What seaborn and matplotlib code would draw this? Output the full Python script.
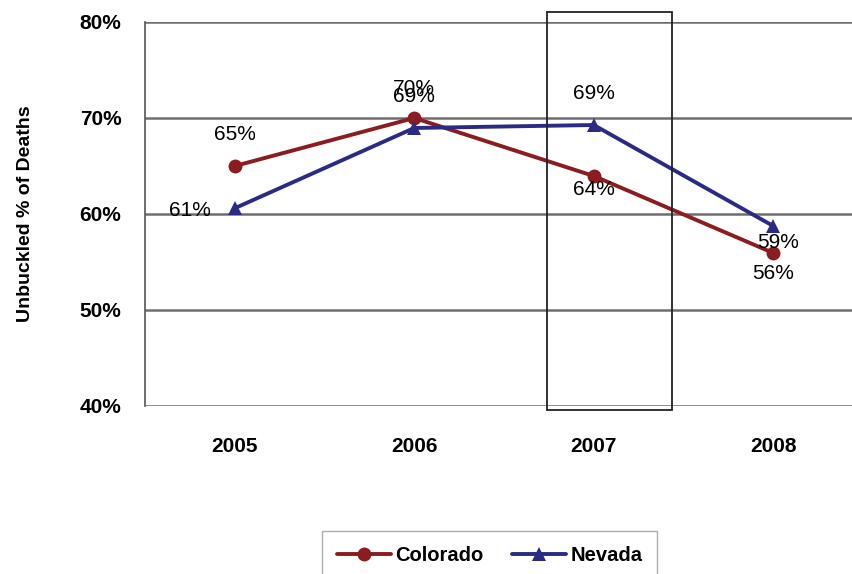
import matplotlib
matplotlib.use("Agg")
import matplotlib.pyplot as plt
from matplotlib.patches import Rectangle
from matplotlib.lines import Line2D
import seaborn as sns
import pandas as pd

years = ["2005", "2006", "2007", "2008"]
colorado = [65.0, 70.0, 63.96, 55.94]
nevada = [60.6, 68.96, 69.27, 58.75]
y_ticks = [40, 50, 60, 70, 80]

sns.set_theme(style="white")
plt.rcParams["font.family"] = ["Liberation Sans", "DejaVu Sans"]
plt.rcParams["text.color"] = "black"
plt.rcParams["xtick.color"] = "black"
plt.rcParams["ytick.color"] = "black"
plt.rcParams["axes.labelcolor"] = "black"

df = pd.DataFrame({
    "pos": list(range(len(years))) * 2,
    "value": colorado + nevada,
    "State": ["Colorado"] * len(years) + ["Nevada"] * len(years),
})

palette = {"Colorado": "#8B1C1F", "Nevada": "#2B2B86"}
markers = {"Colorado": "o", "Nevada": "^"}

fig = plt.figure(figsize=(8.52, 5.74), dpi=100)
ax = fig.add_axes([145 / 852, 1 - 406 / 574, 4 * 179.5 / 852, 384 / 574])

sns.lineplot(data=df, x="pos", y="value", hue="State", style="State",
             palette=palette, markers=markers, dashes=False,
             linewidth=2.8, markersize=10, markeredgewidth=0, ax=ax,
             legend=False)

ax.set_xlim(-0.5, 3.5)
ax.set_ylim(40, 80)
ax.set_yticks(y_ticks)
ax.set_yticklabels([f"{t}%" for t in y_ticks], fontsize=15, fontweight="bold")
ax.set_xticks(range(len(years)))
ax.set_xticklabels(years, fontsize=15, fontweight="bold")
ax.set_xticks([-0.5, 0.5, 1.5, 2.5, 3.5], minor=True)
ax.tick_params(axis="x", which="major", length=0, pad=22)
ax.tick_params(axis="x", which="minor", length=5, width=1, color="#999999")
ax.tick_params(axis="y", length=5, width=1, color="#666666", pad=12)
ax.set_xlabel("")
ax.set_ylabel("Unbuckled % of Deaths", fontsize=14, fontweight="bold", labelpad=33)

ax.yaxis.grid(True, color="#6e6e6e", linewidth=1.8)
ax.set_axisbelow(True)
for side in ["top", "right", "bottom"]:
    ax.spines[side].set_visible(False)
ax.spines["left"].set_color("#555555")
ax.spines["left"].set_linewidth(1.2)

# value labels, offsets in points
label_offsets = {
    "Colorado": [(0, 23), (0, 21.5), (0, -10), (0, -14.5)],
    "Nevada": [(-32, -1.5), (0, 23), (0, 23), (3.5, -12)],
}
for state, vals in (("Colorado", colorado), ("Nevada", nevada)):
    for i, v in enumerate(vals):
        dx, dy = label_offsets[state][i]
        ax.annotate(f"{v:.0f}%", (i, v), xytext=(dx, dy), textcoords="offset points",
                    ha="center", va="center", fontsize=15, color="black")

# highlight box around 2007
ax.add_patch(Rectangle((1.738, 39.58), 0.70, 41.46, fill=False,
                       edgecolor="#222222", linewidth=1.3, clip_on=False, zorder=5))

# legend
handles = [
    Line2D([], [], color=palette[s], marker=markers[s], linewidth=2.8,
           markersize=10, markeredgewidth=0, label=s)
    for s in ["Colorado", "Nevada"]
]
leg = fig.legend(handles=handles, loc="lower left",
                 bbox_to_anchor=(322 / 852, -6 / 574), ncol=2,
                 frameon=True, fancybox=False, edgecolor="#999999",
                 prop={"weight": "bold", "size": 14.5}, handlelength=2.7,
                 columnspacing=1.4, borderpad=0.75, borderaxespad=0,
                 handletextpad=0.2)
leg.get_frame().set_linewidth(1.0)

fig.savefig("out.png", dpi=100)
